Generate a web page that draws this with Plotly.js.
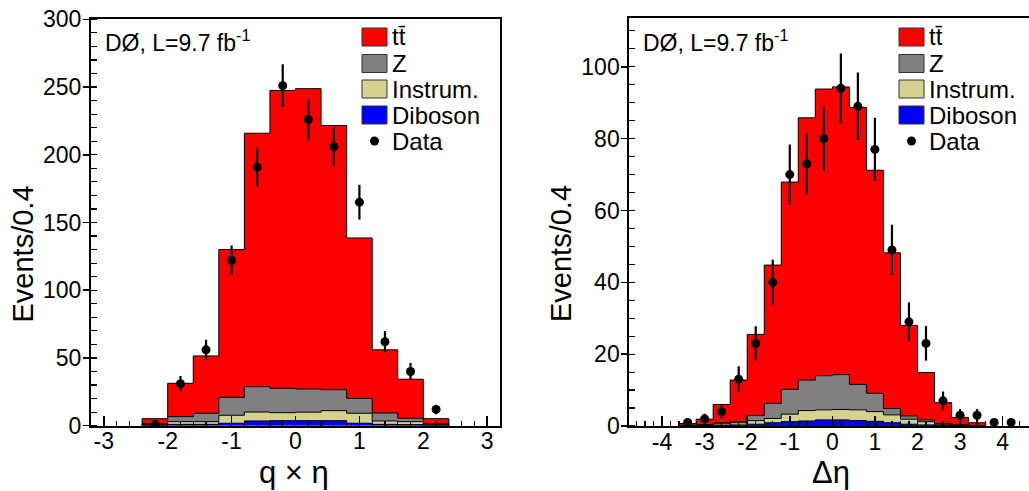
<!DOCTYPE html>
<html>
<head>
<meta charset="utf-8">
<script src="https://cdn.plot.ly/plotly-3.0.1.min.js"></script>
<style>html,body{margin:0;padding:0;background:#fff;}#plot{width:1029px;height:491px;}</style>
</head>
<body>
<div id="plot"></div>
<script>
// ---------- LEFT PANEL: q x eta ----------
const qetaEdges = [-2.4,-2.0,-1.6,-1.2,-0.8,-0.4,0.0,0.4,0.8,1.2,1.6,2.0,2.4];
const qetaTT      = [3.7,24.6,42.3,109.0,187.1,219.9,221.7,195.0,118.4,46.6,28.8,3.7];
const qetaZ       = [0.5,3.7,6.2,13.3,18.7,18.0,17.1,15.5,11.0,5.9,2.5,0.5];
const qetaInstr   = [0.7,2.0,2.0,5.9,6.6,5.9,6.3,7.4,7.4,2.5,2.2,0.7];
const qetaDiboson = [0.3,1.0,1.0,1.8,3.5,3.7,3.7,3.7,1.8,1.0,0.8,0.3];
const qetaDataX   = [-2.2,-1.8,-1.4,-1.0,-0.6,-0.2,0.2,0.6,1.0,1.4,1.8,2.2];
const qetaDataY   = [1,31,56,122,191,251,226,206,165,62,40,12];
const qetaDataErr = [1.0,5.6,7.5,11.0,13.8,15.8,15.0,14.4,12.8,7.9,6.3,3.5];

// ---------- RIGHT PANEL: delta eta ----------
const detaEdges = [-3.6,-3.2,-2.8,-2.4,-2.0,-1.6,-1.2,-0.8,-0.4,0.0,0.4,0.8,1.2,1.6,2.0,2.4,2.8,3.2,3.6];
const detaTT      = [0.5,1.5,5.1,11.6,22.6,38.5,57.7,73.0,79.8,80.1,77.1,62.1,43.3,25.2,13.2,5.9,2.1,0.8];
const detaZ       = [0.1,0.1,0.3,0.3,1.4,4.2,6.9,8.5,9.5,9.7,7.1,5.1,1.8,0.9,0.5,0.1,0.1,0.0];
const detaInstr   = [0.05,0.2,0.4,0.6,1.0,1.2,2.1,2.9,2.8,2.9,3.0,2.7,2.2,1.4,0.9,0.3,0.1,0.05];
const detaDiboson = [0.05,0.1,0.2,0.3,0.5,0.9,1.2,1.4,1.7,1.7,1.5,1.3,0.9,0.5,0.3,0.2,0.1,0.05];
const detaDataX   = [-3.4,-3.0,-2.6,-2.2,-1.8,-1.4,-1.0,-0.6,-0.2,0.2,0.6,1.0,1.4,1.8,2.2,2.6,3.0,3.4,3.8,4.2];
const detaDataY   = [1,2,4,13,23,40,70,73,80,94,89,77,49,29,23,7,3,3,1,1];
const detaDataErr = [1.0,1.4,2.0,3.6,4.8,6.3,8.4,8.5,8.9,9.7,9.4,8.8,7.0,5.4,4.8,2.6,1.7,1.7,1.0,1.0];

// ---------- tick labels ----------
const qetaTicks = [-3,-2,-1,0,1,2,3];
const qetaTickText = ["-3","-2","-1","0","1","2","3"];
const detaTicks = [-4,-3,-2,-1,0,1,2,3,4];
const detaTickText = ["-4","-3","-2","-1","0","1","2","3","4"];

const legendLabels = ["t\u0074\u0304","Z","Instrum.","Diboson","Data"];
const colors = {tt:"#ff0000", z:"#808080", instr:"#d5d28f", dib:"#0000ff"};

// ---------- build stacked step traces ----------
function stepXY(edges, vals){
  const x=[edges[0]], y=[0];
  for(let i=0;i<vals.length;i++){ x.push(edges[i]); y.push(vals[i]); }
  x.push(edges[edges.length-1]); y.push(vals[vals.length-1]);
  x.push(edges[edges.length-1]); y.push(0);
  return {x,y};
}
function stackTraces(edges, tt, z, instr, dib, xa, ya){
  const cDib = dib.slice();
  const cInstr = cDib.map((v,i)=>v+instr[i]);
  const cZ = cInstr.map((v,i)=>v+z[i]);
  const cTT = cZ.map((v,i)=>v+tt[i]);
  const layers = [[cTT,colors.tt],[cZ,colors.z],[cInstr,colors.instr],[cDib,colors.dib]];
  return layers.map(([vals,col])=>{
    const s = stepXY(edges, vals);
    return {x:s.x, y:s.y, type:'scatter', mode:'lines', line:{shape:'hv', color:'#000', width:1},
            fill:'tozeroy', fillcolor:col, xaxis:xa, yaxis:ya, hoverinfo:'skip'};
  });
}
function dataTrace(x,y,err,xa,ya){
  return {x, y, type:'scatter', mode:'markers', xaxis:xa, yaxis:ya,
    marker:{color:'#000', size:9},
    error_y:{type:'data', array:err, visible:true, width:0, thickness:2.2, color:'#000'}};
}

const traces = [
  ...stackTraces(qetaEdges, qetaTT, qetaZ, qetaInstr, qetaDiboson, 'x', 'y'),
  dataTrace(qetaDataX, qetaDataY, qetaDataErr, 'x', 'y'),
  ...stackTraces(detaEdges, detaTT, detaZ, detaInstr, detaDiboson, 'x2', 'y2'),
  dataTrace(detaDataX, detaDataY, detaDataErr, 'x2', 'y2')
];

const W=1029, H=491;
const px = v => v/W, py = v => 1 - v/H;
const FONT = "Liberation Sans, Arial, Helvetica, sans-serif";

function xAxis(domain, range, tv, tt){
  return {domain, range, tickmode:'array', tickvals:tv, ticktext:tt,
    ticks:'inside', ticklen:10, tickwidth:1.5, tickcolor:'#000',
    minor:{dtick:0.2, tick0:0, ticks:'inside', ticklen:5, tickwidth:1.2, tickcolor:'#000', showgrid:false},
    showline:true, linecolor:'#000', linewidth:2, mirror:true,
    showgrid:false, zeroline:false, ticklabelstandoff:-6,
    tickfont:{family:FONT, size:23, color:'#000'}, fixedrange:true};
}
function yAxis(domain, range, dtick, mdtick, mirror){
  return {domain, range, dtick, tick0:0,
    ticks:'outside', ticklen:6, tickwidth:1.5, tickcolor:'#000',
    minor:{dtick:mdtick, tick0:0, ticks:'inside', ticklen:6, tickwidth:1.2, tickcolor:'#000', showgrid:false},
    showline:true, linecolor:'#000', linewidth:2, mirror:mirror,
    showgrid:false, zeroline:false, ticklabelstandoff:-3,
    tickfont:{family:FONT, size:23, color:'#000'}, fixedrange:true};
}

// legend construction
const shapes=[], annotations=[];
function addLegend(boxX, textX){
  const rows=[37,63.5,89,115];
  const cols=[colors.tt,colors.z,colors.instr,colors.dib];
  rows.forEach((r,i)=>{
    shapes.push({type:'rect', xref:'paper', yref:'paper', x0:px(boxX), x1:px(boxX+25), y0:py(r-9), y1:py(r+9),
      fillcolor:cols[i], line:{color:'#333', width:1}});
    annotations.push({xref:'paper', yref:'paper', x:px(textX), y:py(r), xanchor:'left', yanchor:'middle',
      text:legendLabels[i], showarrow:false, font:{family:FONT, size:24, color:'#000'}});
  });
  shapes.push({type:'circle', xref:'paper', yref:'paper', x0:px(boxX+12.5-4.5), x1:px(boxX+12.5+4.5),
    y0:py(141-4.5), y1:py(141+4.5), fillcolor:'#000', line:{color:'#000', width:0}});
  annotations.push({xref:'paper', yref:'paper', x:px(textX), y:py(141), xanchor:'left', yanchor:'middle',
    text:legendLabels[4], showarrow:false, font:{family:FONT, size:24, color:'#000'}});
}
addLegend(362, 390);
addLegend(899, 927);

// experiment labels
[[103],[641]].forEach(([x])=>{
  annotations.push({xref:'paper', yref:'paper', x:px(x), y:py(41), xanchor:'left', yanchor:'middle',
    text:"D\u00D8, L=9.7 fb<sup>-1</sup>", showarrow:false, font:{family:FONT, size:23, color:'#000'}});
});
// axis titles
annotations.push({xref:'paper', yref:'paper', x:px(294), y:py(472), xanchor:'center', yanchor:'middle',
  text:"q \u00D7 \u03B7", showarrow:false, font:{family:FONT, size:31, color:'#000'}});
annotations.push({xref:'paper', yref:'paper', x:px(831), y:py(472), xanchor:'center', yanchor:'middle',
  text:"\u0394\u03B7", showarrow:false, font:{family:FONT, size:31, color:'#000'}});
[[22.5],[561]].forEach(([x])=>{
  annotations.push({xref:'paper', yref:'paper', x:px(x), y:py(254), xanchor:'center', yanchor:'middle',
    text:"Events/0.4", textangle:-90, showarrow:false, font:{family:FONT, size:29, color:'#000'}});
});

const layout = {
  width:W, height:H, margin:{l:0,r:0,t:0,b:0,pad:0},
  paper_bgcolor:'#fff', plot_bgcolor:'#fff', showlegend:false,
  xaxis: xAxis([px(91), px(500)], [-3.2,3.2], qetaTicks, qetaTickText),
  yaxis: yAxis([py(425.7), py(19.3)], [0,300], 50, 10, true),
  xaxis2: Object.assign(xAxis([px(629.3), 1.0], [-4.77,4.62], detaTicks, detaTickText), {anchor:'y2'}),
  yaxis2: Object.assign(yAxis([py(426), py(18.3)], [0,113.5], 20, 5, false), {anchor:'x2'}),
  shapes, annotations
};
layout.xaxis.anchor='y';
layout.yaxis.anchor='x';

Plotly.newPlot('plot', traces, layout, {staticPlot:true, displayModeBar:false});
</script>
</body>
</html>
